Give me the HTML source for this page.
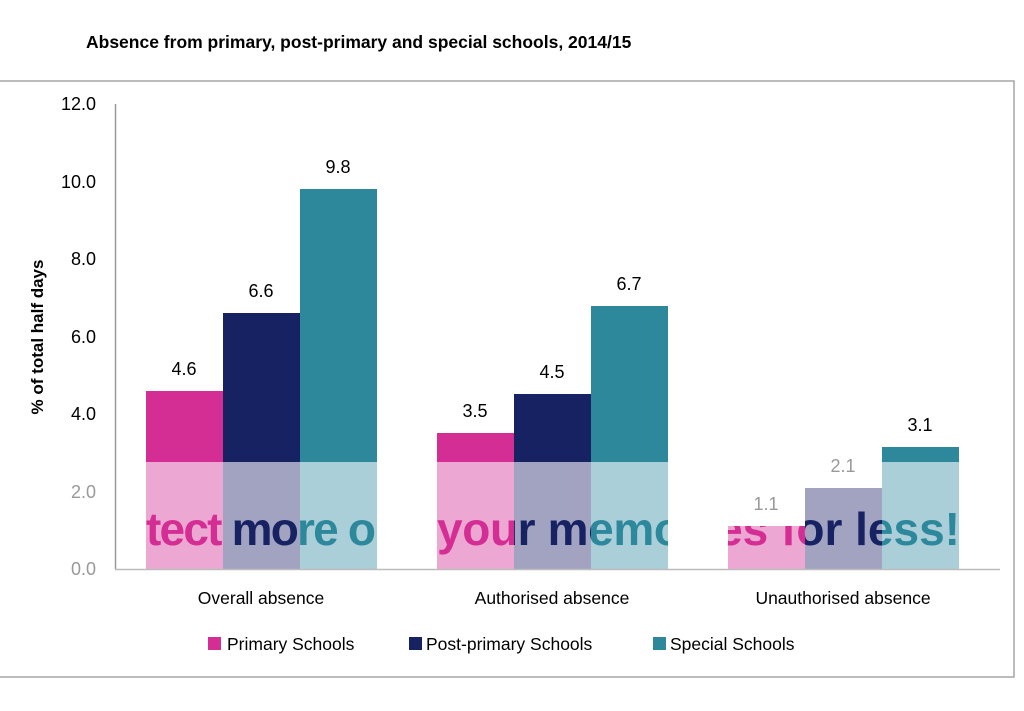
<!DOCTYPE html>
<html><head><meta charset="utf-8"><style>
body{margin:0;background:#fff;}
svg{display:block;font-family:"Liberation Sans",sans-serif;}
</style></head><body>
<svg width="1024" height="711" viewBox="0 0 1024 711">
<rect x="-2" y="81" width="1016" height="596" fill="#fff" stroke="#a6a6a6" stroke-width="1.5"/>
<text x="86" y="48" font-size="17.5" font-weight="bold" fill="#000">Absence from primary, post-primary and special schools, 2014/15</text>
<g font-size="18" fill="#000" text-anchor="end">
<text x="96" y="110">12.0</text><text x="96" y="188">10.0</text><text x="96" y="265">8.0</text>
<text x="96" y="343">6.0</text><text x="96" y="420">4.0</text><text x="96" y="498" fill="#999">2.0</text><text x="96" y="575" fill="#999">0.0</text>
</g>
<text transform="translate(43,337) rotate(-90)" text-anchor="middle" font-size="17" font-weight="bold">% of total half days</text>
<line x1="115.5" y1="104" x2="115.5" y2="569" stroke="#999" stroke-width="1.5"/>
<defs>
<clipPath id="cp"><rect x="146" y="462" width="77" height="107"/><rect x="437" y="462" width="77" height="107"/><rect x="728" y="526" width="77" height="43"/></clipPath>
<clipPath id="cn"><rect x="223" y="462" width="77" height="107"/><rect x="514" y="462" width="77" height="107"/><rect x="805" y="488" width="77" height="81"/></clipPath>
<clipPath id="ct"><rect x="300" y="462" width="77" height="107"/><rect x="591" y="462" width="77" height="107"/><rect x="882" y="462" width="77" height="107"/></clipPath>
</defs>
<g>
<rect x="146" y="391" width="77" height="71" fill="#d42e95"/>
<rect x="223" y="313" width="77" height="149" fill="#172263"/>
<rect x="300" y="189" width="77" height="273" fill="#2d889c"/>
<rect x="437" y="433" width="77" height="29" fill="#d42e95"/>
<rect x="514" y="394" width="77" height="68" fill="#172263"/>
<rect x="591" y="306" width="77" height="156" fill="#2d889c"/>
<rect x="882" y="447" width="77" height="15" fill="#2d889c"/>
<rect x="146" y="462" width="77" height="107" fill="#eca8d3"/>
<rect x="223" y="462" width="77" height="107" fill="#a1a3c1"/>
<rect x="300" y="462" width="77" height="107" fill="#abcfd9"/>
<rect x="437" y="462" width="77" height="107" fill="#eca8d3"/>
<rect x="514" y="462" width="77" height="107" fill="#a1a3c1"/>
<rect x="591" y="462" width="77" height="107" fill="#abcfd9"/>
<rect x="728" y="526" width="77" height="43" fill="#eca8d3"/>
<rect x="805" y="488" width="77" height="81" fill="#a1a3c1"/>
<rect x="882" y="462" width="77" height="107" fill="#abcfd9"/>
</g>
<g font-family="Liberation Sans,sans-serif" font-weight="bold" font-size="46">
<g clip-path="url(#cp)" fill="#d42e95"><text x="146" y="545" textLength="230">tect more o</text><text x="437" y="545" textLength="245">your memo</text><text x="960" y="545" text-anchor="end">es for less!</text></g>
<g clip-path="url(#cn)" fill="#172263"><text x="146" y="545" textLength="230">tect more o</text><text x="437" y="545" textLength="245">your memo</text><text x="960" y="545" text-anchor="end">es for less!</text></g>
<g clip-path="url(#ct)" fill="#2d889c"><text x="146" y="545" textLength="230">tect more o</text><text x="437" y="545" textLength="245">your memo</text><text x="960" y="545" text-anchor="end">es for less!</text></g>
</g>
<line x1="115" y1="569.5" x2="1000" y2="569.5" stroke="#bbb" stroke-width="1.5"/>
<g font-size="18" text-anchor="middle" fill="#000">
<text x="184" y="375">4.6</text><text x="261" y="297">6.6</text><text x="338" y="173">9.8</text>
<text x="475" y="417">3.5</text><text x="552" y="378">4.5</text><text x="629" y="290">6.7</text>
<text x="766" y="510" fill="#999">1.1</text><text x="843" y="472" fill="#999">2.1</text><text x="920" y="431">3.1</text>
</g>
<g font-size="17.5" text-anchor="middle" fill="#000">
<text x="261" y="604">Overall absence</text><text x="552" y="604">Authorised absence</text><text x="843" y="604">Unauthorised absence</text>
</g>
<g font-size="17.5" fill="#000">
<rect x="208" y="637" width="13" height="13" fill="#d42e95"/><text x="227" y="650">Primary Schools</text>
<rect x="409" y="637" width="13" height="13" fill="#172263"/><text x="426" y="650">Post-primary Schools</text>
<rect x="653" y="637" width="13" height="13" fill="#2d889c"/><text x="670" y="650">Special Schools</text>
</g>
</svg>
</body></html>
